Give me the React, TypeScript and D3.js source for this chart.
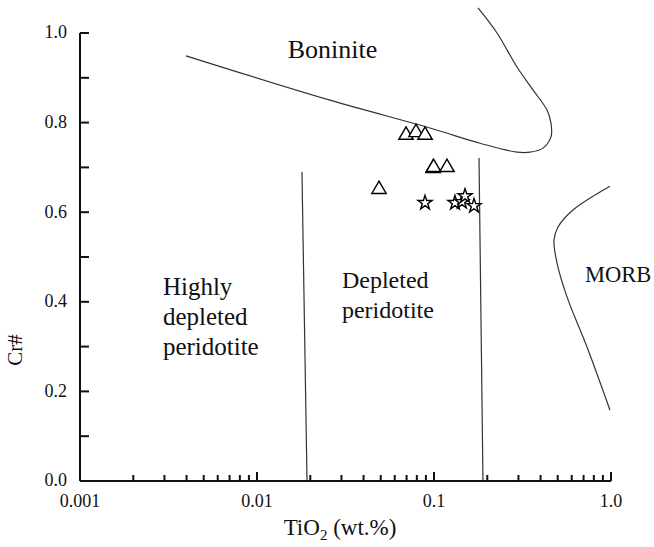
import React from 'react';
import * as d3 from 'd3';

// TiO2 (wt.%) vs Cr# of spinel, discrimination fields
const triangleTiO2 = [0.0695, 0.0791, 0.089, 0.0987, 0.0995, 0.1184, 0.0489];
const triangleCr = [0.772, 0.778, 0.772, 0.698, 0.700, 0.700, 0.651];

const starTiO2 = [0.089, 0.1314, 0.1439, 0.1497, 0.1683];
const starCr = [0.621, 0.621, 0.623, 0.636, 0.614];

const boniniteX = [0.00397, 0.02585, 0.0949, 0.1819, 0.2943, 0.3486, 0.4128, 0.458, 0.458, 0.4349, 0.3625, 0.2943, 0.227, 0.1773];
const boniniteY = [0.949, 0.850, 0.788, 0.754, 0.734, 0.734, 0.743, 0.768, 0.799, 0.828, 0.873, 0.924, 1.0, 1.056];

const morbX = [0.987, 0.61, 0.502, 0.4765, 0.4953, 0.5642, 0.732, 0.987];
const morbY = [0.658, 0.605, 0.567, 0.538, 0.487, 0.411, 0.299, 0.158];

const leftDividerX = [0.01795, 0.01917];
const leftDividerY = [0.690, 0.0];
const rightDividerX = [0.1796, 0.1891];
const rightDividerY = [0.721, 0.0];

const xTickValues = [0.001, 0.01, 0.1, 1];
const xTickLabels = ['0.001', '0.01', '0.1', '1.0'];
const yTickValues = [0, 0.2, 0.4, 0.6, 0.8, 1.0];
const yTickLabels = ['0.0', '0.2', '0.4', '0.6', '0.8', '1.0'];

const W = 654;
const H = 547;
const font = '"Liberation Serif", "Times New Roman", serif';

export default function App() {
  const x = d3.scaleLog().domain([0.001, 1]).range([80, 611]);
  const y = d3.scaleLinear().domain([0, 1]).range([481, 33]);

  const curve = d3
    .line<[number, number]>()
    .x((d) => x(d[0]))
    .y((d) => y(d[1]))
    .curve(d3.curveCatmullRom.alpha(0.5));
  const straight = d3
    .line<[number, number]>()
    .x((d) => x(d[0]))
    .y((d) => y(d[1]));

  const zip = (a: number[], b: number[]) => a.map((v, i) => [v, b[i]] as [number, number]);

  const minorX: number[] = [];
  for (let e = -3; e < 0; e++) {
    for (let m = 2; m <= 9; m++) minorX.push(m * Math.pow(10, e));
  }
  const yTicksAll = d3.range(0, 1.0001, 0.1);

  const tri = d3.symbol().type(d3.symbolTriangle).size(90)();
  const star = d3.symbol().type(d3.symbolStar).size(62)();

  return (
    <svg width={W} height={H} style={{ position: 'absolute', left: 0, top: 0, background: '#fff' }} fontFamily={font}>
      {/* field boundaries */}
      <g fill="none" stroke="#333" strokeWidth={1.2}>
        <path d={curve(zip(boniniteX, boniniteY)) || ''} />
        <path d={curve(zip(morbX, morbY)) || ''} />
        <path d={straight(zip(leftDividerX, leftDividerY)) || ''} />
        <path d={straight(zip(rightDividerX, rightDividerY)) || ''} />
      </g>

      {/* axes */}
      <g stroke="#111" strokeWidth={2} fill="none">
        <line x1={x(0.001)} x2={x(1)} y1={y(0)} y2={y(0)} />
        <line x1={x(0.001)} x2={x(0.001)} y1={y(0)} y2={y(1)} />
        {xTickValues.map((v) => (
          <line key={'xM' + v} x1={x(v)} x2={x(v)} y1={y(0)} y2={y(0) - 9} />
        ))}
        {minorX.map((v) => (
          <line key={'xm' + v} x1={x(v)} x2={x(v)} y1={y(0)} y2={y(0) - 6} />
        ))}
        {yTicksAll.map((v) => (
          <line key={'y' + v} x1={x(0.001)} x2={x(0.001) + 9} y1={y(v)} y2={y(v)} />
        ))}
      </g>

      <g fontSize={18} fill="#111">
        {xTickValues.map((v, i) => (
          <text key={'xl' + v} x={x(v)} y={y(0) + 26} textAnchor="middle">
            {xTickLabels[i]}
          </text>
        ))}
        {yTickValues.map((v, i) => (
          <text key={'yl' + v} x={x(0.001) - 13} y={y(v)} dy="0.3em" textAnchor="end">
            {yTickLabels[i]}
          </text>
        ))}
      </g>

      <text x={340} y={535} textAnchor="middle" fontSize={23} fill="#111">
        TiO<tspan dy={5} fontSize={15}>2</tspan>
        <tspan dy={-5}> (wt.%)</tspan>
      </text>
      <text transform={`translate(22, 350) rotate(-90)`} textAnchor="middle" fontSize={21} fill="#111">
        Cr#
      </text>

      {/* field labels */}
      <g fill="#111">
        <text x={x(0.0267)} y={y(0.944)} textAnchor="middle" fontSize={26}>Boninite</text>
        <text x={x(0.00294)} y={295} fontSize={25}>
          <tspan x={x(0.00294)} dy={0}>Highly</tspan>
          <tspan x={x(0.00294)} dy={30}>depleted</tspan>
          <tspan x={x(0.00294)} dy={30}>peridotite</tspan>
        </text>
        <text x={x(0.0302)} y={288} fontSize={24}>
          <tspan x={x(0.0302)} dy={0}>Depleted</tspan>
          <tspan x={x(0.0302)} dy={30}>peridotite</tspan>
        </text>
        <text x={x(0.713)} y={282} fontSize={22.5}>MORB</text>
      </g>

      {/* samples */}
      <g fill="#fff" stroke="#000" strokeWidth={1.4}>
        {triangleTiO2.map((v, i) => (
          <path key={'t' + i} d={tri || ''} transform={`translate(${x(v)},${y(triangleCr[i])})`} />
        ))}
        {starTiO2.map((v, i) => (
          <path key={'s' + i} d={star || ''} transform={`translate(${x(v)},${y(starCr[i])})`} />
        ))}
      </g>
    </svg>
  );
}
